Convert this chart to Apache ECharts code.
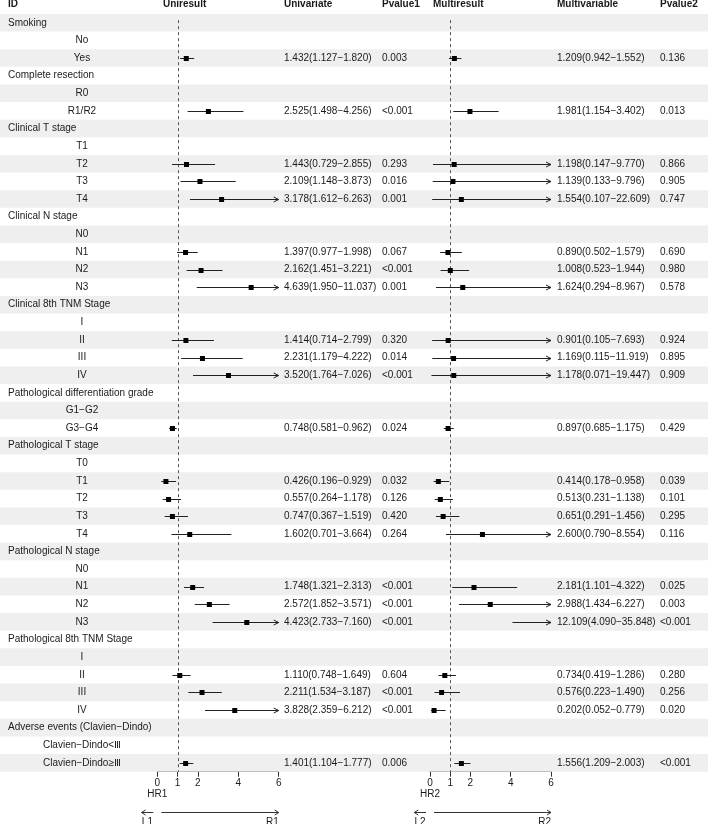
<!DOCTYPE html>
<html>
<head>
<meta charset="utf-8">
<script src="https://cdn.jsdelivr.net/npm/echarts@6/dist/echarts.min.js"></script>
<style>
  html, body { margin: 0; padding: 0; background: #fff; }
  #chart { width: 708px; height: 824px; }
</style>
</head>
<body>
<div id="chart"></div>
<script>
// table rows, top to bottom
const rowLabels = [
  'Smoking', 'No', 'Yes',
  'Complete resection', 'R0', 'R1/R2',
  'Clinical T stage', 'T1', 'T2', 'T3', 'T4',
  'Clinical N stage', 'N0', 'N1', 'N2', 'N3',
  'Clinical 8th TNM Stage', 'I', 'II', 'III', 'IV',
  'Pathological differentiation grade', 'G1−G2', 'G3−G4',
  'Pathological T stage', 'T0', 'T1', 'T2', 'T3', 'T4',
  'Pathological N stage', 'N0', 'N1', 'N2', 'N3',
  'Pathological 8th TNM Stage', 'I', 'II', 'III', 'IV',
  'Adverse events (Clavien−Dindo)', 'Clavien−Dindo<Ⅲ', 'Clavien−Dindo≥Ⅲ'
]
const groupRows = [0, 3, 6, 11, 16, 21, 24, 30, 35, 40]

const uniHR   = [null, null, 1.432, null, null, 2.525, null, null, 1.443, 2.109, 3.178, null, null, 1.397, 2.162, 4.639, null, null, 1.414, 2.231, 3.520, null, null, 0.748, null, null, 0.426, 0.557, 0.747, 1.602, null, null, 1.748, 2.572, 4.423, null, null, 1.110, 2.211, 3.828, null, null, 1.401]
const uniLow  = [null, null, 1.127, null, null, 1.498, null, null, 0.729, 1.148, 1.612, null, null, 0.977, 1.451, 1.950, null, null, 0.714, 1.179, 1.764, null, null, 0.581, null, null, 0.196, 0.264, 0.367, 0.701, null, null, 1.321, 1.852, 2.733, null, null, 0.748, 1.534, 2.359, null, null, 1.104]
const uniHigh = [null, null, 1.820, null, null, 4.256, null, null, 2.855, 3.873, 6.263, null, null, 1.998, 3.221, 11.037, null, null, 2.799, 4.222, 7.026, null, null, 0.962, null, null, 0.929, 1.178, 1.519, 3.664, null, null, 2.313, 3.571, 7.160, null, null, 1.649, 3.187, 6.212, null, null, 1.777]
const pvalue1 = ['', '', '0.003', '', '', '<0.001', '', '', '0.293', '0.016', '0.001', '', '', '0.067', '<0.001', '0.001', '', '', '0.320', '0.014', '<0.001', '', '', '0.024', '', '', '0.032', '0.126', '0.420', '0.264', '', '', '<0.001', '<0.001', '<0.001', '', '', '0.604', '<0.001', '<0.001', '', '', '0.006']

const multiHR   = [null, null, 1.209, null, null, 1.981, null, null, 1.198, 1.139, 1.554, null, null, 0.890, 1.008, 1.624, null, null, 0.901, 1.169, 1.178, null, null, 0.897, null, null, 0.414, 0.513, 0.651, 2.600, null, null, 2.181, 2.988, 12.109, null, null, 0.734, 0.576, 0.202, null, null, 1.556]
const multiLow  = [null, null, 0.942, null, null, 1.154, null, null, 0.147, 0.133, 0.107, null, null, 0.502, 0.523, 0.294, null, null, 0.105, 0.115, 0.071, null, null, 0.685, null, null, 0.178, 0.231, 0.291, 0.790, null, null, 1.101, 1.434, 4.090, null, null, 0.419, 0.223, 0.052, null, null, 1.209]
const multiHigh = [null, null, 1.552, null, null, 3.402, null, null, 9.770, 9.796, 22.609, null, null, 1.579, 1.944, 8.967, null, null, 7.693, 11.919, 19.447, null, null, 1.175, null, null, 0.958, 1.138, 1.456, 8.554, null, null, 4.322, 6.227, 35.848, null, null, 1.286, 1.490, 0.779, null, null, 2.003]
const pvalue2 = ['', '', '0.136', '', '', '0.013', '', '', '0.866', '0.905', '0.747', '', '', '0.690', '0.980', '0.578', '', '', '0.924', '0.895', '0.909', '', '', '0.429', '', '', '0.039', '0.101', '0.295', '0.116', '', '', '0.025', '0.003', '<0.001', '', '', '0.280', '0.256', '0.020', '', '', '<0.001']

const headers = ['ID', 'Uniresult', 'Univariate', 'Pvalue1', 'Multiresult', 'Multivariable', 'Pvalue2']
const tickValues = [0, 1, 2, 4, 6]
const axisNames = ['HR1', 'HR2']
const arrowLabels = [['L1', 'R1'], ['L2', 'R2']]

const nRows = rowLabels.length
const xMax = 6
const font = '10px "Liberation Sans", Arial, sans-serif'
const boldFont = 'bold 10px "Liberation Sans", Arial, sans-serif'
const ink = '#1a1a1a'
// column anchors (px) of the text table
const colX = { id: 8, sub: 82, uni: 163, univ: 284, p1: 382, multi: 433, multiv: 557, p2: 660 }

const fmtCI = (e, l, h) => `${e.toFixed(3)}(${l.toFixed(3)}−${h.toFixed(3)})`

const chart = echarts.init(document.getElementById('chart'))

const gridTop = 14
const gridHeight = 757.7

const yAxisBase = { type: 'value', inverse: true, min: 0, max: nRows, show: false }

const forestAxis = (gridIndex) => ({
  type: 'value',
  gridIndex,
  min: 0,
  max: xMax,
  position: 'bottom',
  axisLine: { onZero: false, lineStyle: { color: '#333', width: 1 } },
  axisTick: { show: true, length: 5, customValues: tickValues, lineStyle: { color: '#333' } },
  axisLabel: { customValues: tickValues, color: ink, fontSize: 10, fontFamily: 'Liberation Sans', margin: 7 },
  splitLine: { show: false }
})

function text(x, y, str, align, f) {
  return { type: 'text', x, y, style: { text: str, fill: ink, font: f || font, align: align || 'left', verticalAlign: 'middle' } }
}

function bgRender(params, api) {
  const r = api.value(0)
  const a = api.coord([0, r])
  const b = api.coord([708, r + 1])
  return { type: 'rect', shape: { x: a[0], y: a[1], width: b[0] - a[0], height: b[1] - a[1] }, style: { fill: '#EFEFEF' } }
}

function tableRender(params, api) {
  const r = api.value(0)
  const y = api.coord([0, r + 0.5])[1]
  const children = []
  if (groupRows.includes(r)) children.push(text(colX.id, y, rowLabels[r]))
  else children.push(text(colX.sub, y, rowLabels[r], 'center'))
  if (uniHR[r] != null) children.push(text(colX.univ, y, fmtCI(uniHR[r], uniLow[r], uniHigh[r])))
  if (pvalue1[r]) children.push(text(colX.p1, y, pvalue1[r]))
  if (multiHR[r] != null) children.push(text(colX.multiv, y, fmtCI(multiHR[r], multiLow[r], multiHigh[r])))
  if (pvalue2[r]) children.push(text(colX.p2, y, pvalue2[r]))
  return { type: 'group', children }
}

function headerRender(params, api) {
  const y = api.coord([0, -0.55])[1]
  const xs = [colX.id, colX.uni, colX.univ, colX.p1, colX.multi, colX.multiv, colX.p2]
  return { type: 'group', children: headers.map((h, k) => text(xs[k], y, h, 'left', boldFont)) }
}

function forestRender(params, api) {
  const row = api.value(0), est = api.value(1), lo = api.value(2), hi = api.value(3)
  const p0 = api.coord([Math.max(lo, 0), row + 0.5])
  const p1 = api.coord([Math.min(hi, xMax), row + 0.5])
  const y = Math.round(p0[1]) + 0.5
  const children = [{ type: 'line', shape: { x1: p0[0], y1: y, x2: p1[0], y2: y }, style: { stroke: '#222', lineWidth: 1 } }]
  if (hi > xMax) {
    children.push({ type: 'polyline', shape: { points: [[p1[0] - 5, y - 2.5], [p1[0], y], [p1[0] - 5, y + 2.5]] }, style: { stroke: '#222', fill: null, lineWidth: 1 } })
  }
  if (est <= xMax) {
    const c = api.coord([est, row + 0.5])
    children.push({ type: 'rect', shape: { x: c[0] - 2.5, y: y - 2.5, width: 5, height: 5 }, style: { fill: '#000' } })
  }
  return { type: 'group', children }
}

function refRender(params, api) {
  const a = api.coord([1, 0.35])
  const b = api.coord([1, nRows])
  const x = Math.round(a[0]) + 0.5
  return { type: 'line', shape: { x1: x, y1: a[1], x2: x, y2: b[1] }, style: { stroke: '#555', lineWidth: 1, lineDash: [3, 3] } }
}

function footerRender(k) {
  return function (params, api) {
    const base = api.coord([0, nRows])
    const x0 = base[0]
    const bottom = base[1]
    const x6 = api.coord([xMax, nRows])[0]
    const xl1 = api.coord([-0.2, nRows])[0]
    const xl2 = api.coord([-0.78, nRows])[0]
    const xr1 = api.coord([0.2, nRows])[0]
    const ay = Math.round(bottom + 40) + 0.5
    const st = { stroke: '#333', lineWidth: 1, fill: null }
    return {
      type: 'group',
      children: [
        text(x0, bottom + 23, axisNames[k], 'center'),
        { type: 'line', shape: { x1: xl1, y1: ay, x2: xl2, y2: ay }, style: st },
        { type: 'polyline', shape: { points: [[xl2 + 4, ay - 2.5], [xl2, ay], [xl2 + 4, ay + 2.5]] }, style: st },
        { type: 'line', shape: { x1: xr1, y1: ay, x2: x6, y2: ay }, style: st },
        { type: 'polyline', shape: { points: [[x6 - 4, ay - 2.5], [x6, ay], [x6 - 4, ay + 2.5]] }, style: st },
        text((xl1 + xl2) / 2, bottom + 51, arrowLabels[k][0], 'center'),
        text(x6, bottom + 51, arrowLabels[k][1], 'right')
      ]
    }
  }
}

const rowIdx = rowLabels.map((_, i) => [i])
const uniData = [], multiData = []
for (let i = 0; i < nRows; i++) {
  if (uniHR[i] != null) uniData.push([i, uniHR[i], uniLow[i], uniHigh[i]])
  if (multiHR[i] != null) multiData.push([i, multiHR[i], multiLow[i], multiHigh[i]])
}

const option = {
  animation: false,
  backgroundColor: '#fff',
  grid: [
    { left: 0, right: 0, top: gridTop, height: gridHeight },
    { left: 157.3, width: 121.4, top: gridTop, height: gridHeight },
    { left: 430, width: 121, top: gridTop, height: gridHeight }
  ],
  xAxis: [
    { type: 'value', gridIndex: 0, min: 0, max: 708, show: false },
    forestAxis(1),
    forestAxis(2)
  ],
  yAxis: [
    Object.assign({ gridIndex: 0 }, yAxisBase),
    Object.assign({ gridIndex: 1 }, yAxisBase),
    Object.assign({ gridIndex: 2 }, yAxisBase)
  ],
  series: [
    { type: 'custom', name: 'bands', xAxisIndex: 0, yAxisIndex: 0, z: 1, data: rowIdx.filter(d => d[0] % 2 === 0), renderItem: bgRender },
    { type: 'custom', name: 'header', xAxisIndex: 0, yAxisIndex: 0, z: 3, clip: false, data: [[0]], renderItem: headerRender },
    { type: 'custom', name: 'table', xAxisIndex: 0, yAxisIndex: 0, z: 3, data: rowIdx, renderItem: tableRender },
    { type: 'custom', name: 'ref1', xAxisIndex: 1, yAxisIndex: 1, z: 2, data: [[1]], renderItem: refRender },
    { type: 'custom', name: 'ref2', xAxisIndex: 2, yAxisIndex: 2, z: 2, data: [[1]], renderItem: refRender },
    { type: 'custom', name: 'Uniresult', xAxisIndex: 1, yAxisIndex: 1, z: 4, clip: false, data: uniData, renderItem: forestRender },
    { type: 'custom', name: 'Multiresult', xAxisIndex: 2, yAxisIndex: 2, z: 4, clip: false, data: multiData, renderItem: forestRender },
    { type: 'custom', name: 'foot1', xAxisIndex: 1, yAxisIndex: 1, z: 4, clip: false, data: [[0]], renderItem: footerRender(0) },
    { type: 'custom', name: 'foot2', xAxisIndex: 2, yAxisIndex: 2, z: 4, clip: false, data: [[0]], renderItem: footerRender(1) }
  ]
}

chart.setOption(option)
</script>
</body>
</html>
